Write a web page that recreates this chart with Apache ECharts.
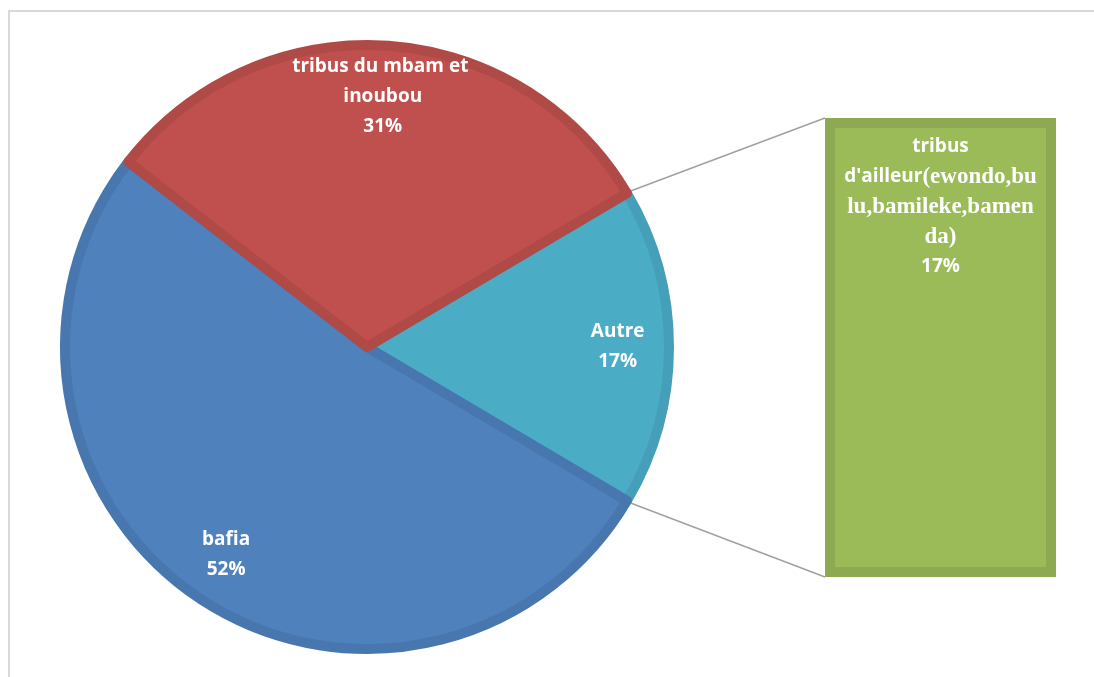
<!DOCTYPE html>
<html>
<head>
<meta charset="utf-8">
<script src="https://cdn.jsdelivr.net/npm/echarts@6/dist/echarts.min.js"></script>
<style>
  html, body { margin: 0; padding: 0; background: #fff; }
  #main { width: 1094px; height: 677px; }
</style>
</head>
<body>
<div id="main"></div>
<script>
// pie categories and shares (order = clockwise from the top edge of "Autre")
var pieNames = ['Autre', 'bafia', 'tribus du mbam et inoubou'];
var pieValues = [17, 52, 31];
var pieColors = ['#4BACC6', '#4F81BD', '#C0504D'];
var pieBorders = ['#469FB8', '#4876AF', '#B04A47'];

// the "Autre" slice broken out in the bar
var barNames = ["tribus d'ailleur(ewondo,bulu,bamileke,bamenda)"];
var barValues = [17];

var chart = echarts.init(document.getElementById('main'));

var cx = 367, cy = 347, R = 302;
var total = pieValues.reduce(function (a, b) { return a + b; }, 0);
var autreSweep = pieValues[0] / total * 360;
var startAngle = autreSweep / 2; // centre the "Autre" slice on 3 o'clock

// bar box
var bx = 825, by = 118, bw = 231, bh = 459, bb = 10;

function pt(angleDeg, r) {
  var a = angleDeg * Math.PI / 180;
  return [cx + Math.cos(a) * r, cy - Math.sin(a) * r];
}
var pTop = pt(startAngle, R + bb / 2);
var pBot = pt(-startAngle, R + bb / 2);

var lblFont = '"Open Sans", Lato, sans-serif';

var option = {
  backgroundColor: '#fff',
  animation: false,
  graphic: [
    {
      type: 'rect', silent: true,
      shape: { x: 9, y: 11, width: 1120, height: 700 },
      style: { fill: 'none', stroke: '#D9D9D9', lineWidth: 2 }
    },
    {
      type: 'line', silent: true,
      shape: { x1: pTop[0], y1: pTop[1], x2: bx, y2: by },
      style: { stroke: '#A0A0A0', lineWidth: 1.5 }
    },
    {
      type: 'line', silent: true,
      shape: { x1: pBot[0], y1: pBot[1], x2: bx, y2: by + bh },
      style: { stroke: '#A0A0A0', lineWidth: 1.5 }
    }
  ],
  grid: { left: bx, top: by, width: bw, height: bh },
  xAxis: { type: 'category', data: barNames, show: false },
  yAxis: { type: 'value', min: 0, max: barValues[0], show: false },
  series: [
    {
      type: 'pie',
      center: [cx, cy],
      radius: [0, R],
      startAngle: startAngle,
      clockwise: true,
      silent: true,
      label: { show: false },
      labelLine: { show: false },
      data: pieNames.map(function (n, i) {
        return {
          name: n, value: pieValues[i],
          itemStyle: { color: pieColors[i], borderColor: pieBorders[i], borderWidth: 10 }
        };
      })
    },
    {
      // transparent copy used only to place the labels at ~0.82 R
      type: 'pie',
      center: [cx, cy],
      radius: [R * 0.64, R],
      startAngle: startAngle,
      clockwise: true,
      silent: true,
      itemStyle: { color: 'rgba(0,0,0,0)' },
      labelLine: { show: false },
      label: {
        show: true,
        position: 'inside',
        color: '#fff',
        fontFamily: lblFont,
        fontWeight: 'bold',
        fontSize: 19,
        lineHeight: 30,
        width: 215,
        overflow: 'break',
        formatter: '{b}\n{d}%'
      },
      data: pieNames.map(function (n, i) { return { name: n, value: pieValues[i] }; })
    },
    {
      type: 'bar',
      data: barValues,
      barWidth: '100%',
      silent: true,
      itemStyle: { color: '#9BBB59', borderColor: '#8DA951', borderWidth: bb },
      label: {
        show: true,
        position: 'insideTop',
        distance: 14,
        color: '#fff',
        fontWeight: 'bold',
        align: 'center',
        lineHeight: 30,
        formatter: function () {
          return "{s|tribus}\n{s|d'ailleur}{t|(ewondo,bu}\n{t|lu,bamileke,bamen}\n{t|da)}\n{s|" + barValues[0] + "%}";
        },
        rich: {
          s: { fontFamily: lblFont, fontWeight: 'bold', fontSize: 19, color: '#fff', lineHeight: 30 },
          t: { fontFamily: '"Liberation Serif", "DejaVu Serif", serif', fontWeight: 'bold', fontSize: 23, color: '#fff', lineHeight: 30 }
        }
      }
    }
  ]
};

chart.setOption(option);
</script>
</body>
</html>
